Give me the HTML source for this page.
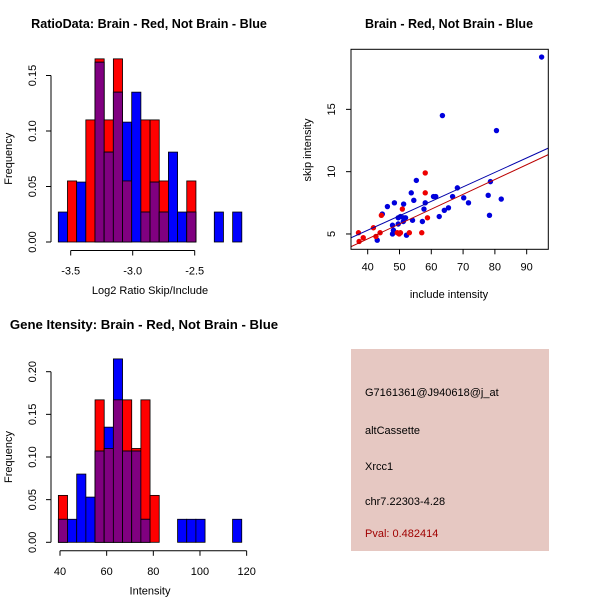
<!DOCTYPE html>
<html><head><meta charset="utf-8"><style>body{margin:0;background:#fff}svg{display:block;font-family:"Liberation Sans",sans-serif}</style></head>
<body>
<svg id="s" width="600" height="600" viewBox="0 0 600 600">
<rect width="600" height="600" fill="#fff"/>
<g>
<rect x="351" y="349" width="198" height="202" fill="#e6c8c2"/>
<g font-size="11" fill="#000">
<text x="365" y="396">G7161361@J940618@j_at</text>
<text x="365" y="434">altCassette</text>
<text x="365" y="470">Xrcc1</text>
<text x="365" y="505">chr7.22303-4.28</text>
<text x="365" y="537" fill="#a00000">Pval: 0.482414</text>
</g></g>
</svg>
<script>
// Ratio histogram data
const ratioBinStart = -3.6, ratioBinWidth = 0.074;
const ratioRed  = [0,0.055,0,0.11,0.165,0.11,0.165,0.055,0,0.11,0.11,0.055,0,0,0.055,0,0,0,0,0];
const ratioBlue = [0.027,0,0.054,0,0.162,0.081,0.135,0.108,0.135,0.027,0.054,0.027,0.081,0.027,0.027,0,0,0.027,0,0.027];
const ratioXTicks = [-3.5,-3.0,-2.5];
const ratioYTicks = [0,0.05,0.10,0.15];
// Intensity histogram data
const intBinStart = 39.3, intBinWidth = 3.93;
const intRed  = [0.055,0,0,0,0.167,0.11,0.167,0.167,0.11,0.167,0.055,0,0,0,0,0,0,0,0,0];
const intBlue = [0.027,0.027,0.08,0.053,0.107,0.135,0.215,0.107,0.107,0.027,0,0,0,0.027,0.027,0.027,0,0,0,0.027];
const intXTicks = [40,60,80,100,120];
const intYTicks = [0,0.05,0.10,0.15,0.20];
// Scatter data
const blueX = [94.7,63.5,80.5,55.3,53.7,68.2,78.6,60.7,61.4,66.7,77.9,82.0,70.2,71.7,54.5,58.1,48.4,51.3,46.2,57.7,65.4,64.1,44.6,78.3,62.5,49.6,50.3,51.3,51.9,54.1,51.2,57.2,47.8,49.6,48.1,47.8,52.2,43.0];
const blueY = [19.2,14.5,13.3,9.3,8.3,8.7,9.2,8.0,8.0,8.0,8.1,7.8,7.9,7.5,7.7,7.5,7.5,7.4,7.2,7.0,7.1,6.9,6.6,6.5,6.4,6.3,6.4,6.3,6.3,6.1,6.0,6.0,5.7,5.8,5.3,5.0,4.9,4.5];
const redX = [58.1,58.1,50.9,58.8,44.3,41.8,37.1,43.9,38.6,42.6,37.3,49.3,50.3,53.1,57.0,49.9];
const redY = [9.9,8.3,7.0,6.3,6.5,5.5,5.1,5.1,4.7,4.8,4.4,5.1,5.1,5.1,5.1,5.0];
const blueFit = [0.66,0.116]; // intercept, slope
const redFit = [-0.15,0.119];
const scXTicks = [40,50,60,70,80,90];
const scYTicks = [5,10,15];

const NS="http://www.w3.org/2000/svg", svg=document.getElementById('s');
function mk(tag,attrs,parent){const e=document.createElementNS(NS,tag);for(const k in attrs)e.setAttribute(k,attrs[k]);(parent||svg).appendChild(e);return e;}
function txt(x,y,s,size,opts,parent){const t=mk('text',Object.assign({x:x,y:y,'font-size':size,'text-anchor':'middle'},opts||{}),parent);t.textContent=s;return t;}

function hist(cfg){
  const g=mk('g',{});
  
  
  const sx=v=>cfg.x0+(v-cfg.xv0)*cfg.xs, sy=v=>cfg.y0-v*cfg.ys;
  const n=cfg.red.length;
  for(let i=0;i<n;i++){
    const a=sx(cfg.bs+i*cfg.bw), b=sx(cfg.bs+(i+1)*cfg.bw);
    const r=cfg.red[i], bl=cfg.blue[i], m=Math.min(r,bl);
    [[r,'#ff0000','red'],[bl,'#0000ff','blue'],[m,'#800080','overlap']].forEach(([v,c,nm])=>{
      if(v>0){const e=mk('rect',{x:a,y:sy(v),width:b-a,height:sy(0)-sy(v),fill:c,stroke:'#000','stroke-width':0.8},g);
      
      }
    });
  }
  const ax=cfg.y0+8.5;
  const xa=mk('g',{},g);
  
  
  mk('line',{x1:sx(cfg.xt[0]),x2:sx(cfg.xt[cfg.xt.length-1]),y1:ax,y2:ax,stroke:'#000'},xa);
  cfg.xt.forEach(t=>{mk('line',{x1:sx(t),x2:sx(t),y1:ax,y2:ax+5,stroke:'#000'},xa);txt(sx(t),ax+24,cfg.fmtx(t),11,{},xa);});
  const ya=mk('g',{},g);
  
  
  const axx=51;
  mk('line',{x1:axx,x2:axx,y1:sy(cfg.yt[0]),y2:sy(cfg.yt[cfg.yt.length-1]),stroke:'#000'},ya);
  cfg.yt.forEach(t=>{mk('line',{x1:axx,x2:axx-5,y1:sy(t),y2:sy(t),stroke:'#000'},ya);txt(36,sy(t),t.toFixed(2),11,{transform:`rotate(-90 36 ${sy(t)})`},ya);});
  const t1=txt(cfg.titleX,cfg.titleY,cfg.title,cfg.titleSize,{'font-weight':'bold'},g);
  
  
  const t2=txt(cfg.xlx,cfg.y0+52,cfg.xlab,11,{},g);
  
  
  const yc=(sy(0)+sy(cfg.yt[cfg.yt.length-1]))/2;
  const t3=txt(12,yc,'Frequency',11,{transform:`rotate(-90 12 ${yc})`},g);
  
  
}
hist({name:'ratio-histogram',red:ratioRed,blue:ratioBlue,bs:ratioBinStart,bw:ratioBinWidth,x0:70.7,xv0:-3.5,xs:124,y0:242,ys:1110,xt:ratioXTicks,yt:ratioYTicks,title:'RatioData: Brain - Red, Not Brain - Blue',titleX:149,titleSize:12.6,titleY:28,xlab:'Log2 Ratio Skip/Include',xlx:150,fmtx:t=>t.toFixed(1)});
hist({name:'intensity-histogram',red:intRed,blue:intBlue,bs:intBinStart,bw:intBinWidth,x0:60,xv0:40,xs:2.333,y0:542.3,ys:853,xt:intXTicks,yt:intYTicks,title:'Gene Itensity: Brain - Red, Not Brain - Blue',titleX:144,titleSize:13.2,titleY:329,xlab:'Intensity',xlx:150,fmtx:t=>String(t)});

// Scatter
(function(){
  const g=mk('g',{});
  
  
  const L=351,R=548.3,T=49.3,B=249.3, xmin=34.75,xmax=96.8,ymin=3.77,ymax=19.82;
  const sx=v=>L+(v-xmin)/(xmax-xmin)*(R-L), sy=v=>B-(v-ymin)/(ymax-ymin)*(B-T);
  const cp=mk('clipPath',{id:'clp'},g);
  mk('rect',{x:L,y:T,width:R-L,height:B-T},cp);
  blueX.forEach((x,i)=>{const c=mk('circle',{cx:sx(x),cy:sy(blueY[i]),r:2.7,fill:'#0000dd'},g);
    
    });
  redX.forEach((x,i)=>{const c=mk('circle',{cx:sx(x),cy:sy(redY[i]),r:2.7,fill:'#ee0000'},g);
    
    });
  [[blueFit,'#0000aa','fit-line-blue'],[redFit,'#bb0000','fit-line-red']].forEach(([f,c,nm])=>{
    const l=mk('line',{x1:sx(xmin),y1:sy(f[0]+f[1]*xmin),x2:sx(xmax),y2:sy(f[0]+f[1]*xmax),stroke:c,'stroke-width':1,'clip-path':'url(#clp)'},g);
    
    
  });
  const b=mk('rect',{x:L,y:T,width:R-L,height:B-T,fill:'none',stroke:'#000'},g);
  
  
  scXTicks.forEach(t=>{mk('line',{x1:sx(t),x2:sx(t),y1:B,y2:B+5,stroke:'#000'},g);txt(sx(t),B+21,String(t),11,{},g);});
  scYTicks.forEach(t=>{mk('line',{x1:L,x2:L-5,y1:sy(t),y2:sy(t),stroke:'#000'},g);txt(335,sy(t),String(t),11,{transform:`rotate(-90 335 ${sy(t)})`},g);});
  const t1=txt(449,28,'Brain - Red, Not Brain - Blue',12.5,{'font-weight':'bold'},g);
  
  
  const t2=txt(449,298,'include intensity',11,{},g);
  
  
  const t3=txt(311,150,'skip intensity',11,{transform:'rotate(-90 311 150)'},g);
  
  
})();
</script>
</body></html>
